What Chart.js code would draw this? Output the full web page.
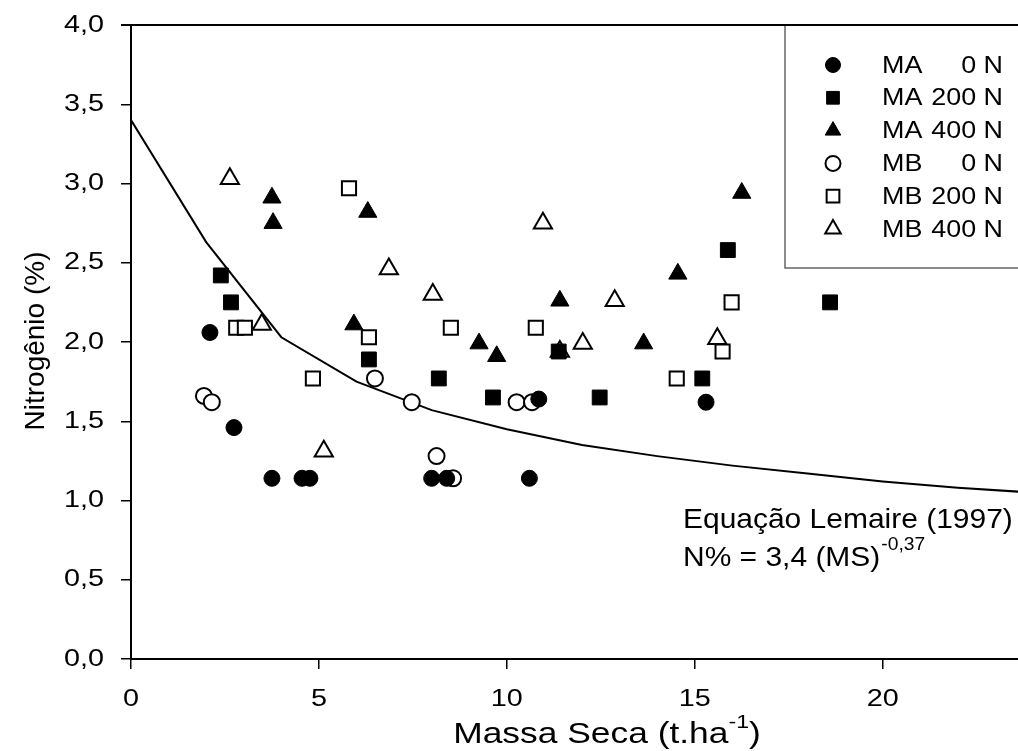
<!DOCTYPE html>
<html>
<head>
<meta charset="utf-8">
<script src="https://cdn.jsdelivr.net/npm/chart.js@4.4.1/dist/chart.umd.min.js"></script>
<style>
  body { margin: 0; background: #fff; }
  canvas { display: block; }
</style>
</head>
<body>
<canvas id="nitrogen-graph" width="1018" height="751"></canvas>
<script>
const nitrogenGraph = document.querySelector("#nitrogen-graph");

// series: dry mass (t/ha) and nitrogen (%)
const maZeroX = [2.1, 2.74, 3.75, 4.55, 4.76, 8.0, 8.4, 10.6, 10.85, 15.3];
const maZeroY = [2.06, 1.46, 1.14, 1.14, 1.14, 1.14, 1.14, 1.14, 1.64, 1.62];

const ma200X = [2.39, 2.66, 6.33, 8.19, 9.63, 11.38, 12.47, 15.2, 15.88, 18.6];
const ma200Y = [2.42, 2.25, 1.89, 1.77, 1.65, 1.94, 1.65, 1.77, 2.58, 2.25];

const ma400X = [3.75, 3.78, 5.93, 6.3, 9.26, 9.73, 11.41, 13.64, 14.55, 16.25];
const ma400Y = [2.91, 2.75, 2.11, 2.82, 1.99, 1.91, 2.26, 1.99, 2.43, 2.94];

const mbZeroX = [1.94, 2.15, 6.49, 7.47, 8.13, 8.57, 10.26, 10.67];
const mbZeroY = [1.66, 1.62, 1.77, 1.62, 1.28, 1.14, 1.62, 1.62];

const mb200X = [2.8, 3.03, 4.84, 5.8, 6.33, 8.51, 10.77, 14.52, 15.74, 15.98];
const mb200Y = [2.09, 2.09, 1.77, 2.97, 2.03, 2.09, 2.09, 1.77, 1.94, 2.25];

const mb400X = [2.63, 3.48, 5.13, 6.86, 8.03, 10.96, 11.41, 12.02, 12.87, 15.6];
const mb400Y = [3.03, 2.11, 1.31, 2.46, 2.30, 2.75, 1.94, 1.99, 2.26, 2.02];

// Lemaire (1997) reference curve as drawn (sampled every 2 t/ha)
const curveX = [0, 2, 4, 6, 8, 10, 12, 14, 16, 18, 20, 22, 24];
const curveY = [3.4, 2.63, 2.03, 1.75, 1.57, 1.45, 1.35, 1.28, 1.22, 1.17, 1.12, 1.08, 1.05];

const labels = ["MA 0 N", "MA 200 N", "MA 400 N", "MB 0 N", "MB 200 N", "MB 400 N"];

const xTicks = [0, 5, 10, 15, 20];
const yTicks = [0, 0.5, 1, 1.5, 2, 2.5, 3, 3.5, 4];

const toPoints = (xs, ys) => xs.map((x, i) => ({ x: x, y: ys[i] }));

const makeSet = (label, xs, ys, style, filled, radius) => ({
  label: label,
  data: toPoints(xs, ys),
  pointStyle: style,
  pointRadius: radius,
  pointHoverRadius: radius,
  pointBackgroundColor: filled ? "#000" : "#fff",
  pointBorderColor: "#000",
  pointBorderWidth: filled ? 1 : 2,
  showLine: false,
});

const font = "Arial, 'Liberation Sans', sans-serif";

const sets = [
  makeSet(labels[0], maZeroX, maZeroY, "circle", true, 8),
  makeSet(labels[1], ma200X, ma200Y, "rect", true, 10.5),
  makeSet(labels[2], ma400X, ma400Y, "triangle", true, 10.5),
  makeSet(labels[3], mbZeroX, mbZeroY, "circle", false, 8),
  makeSet(labels[4], mb200X, mb200Y, "rect", false, 10),
  makeSet(labels[5], mb400X, mb400Y, "triangle", false, 10.5),
];

const fmtX = (v) => String(v);
const fmtY = (v) => v.toFixed(1).replace(".", ",");

// the original text is a bit wide, so it is drawn with a horizontal stretch
const putText = (ctx, text, x, y, size, sx, align, baseline) => {
  ctx.save();
  ctx.font = size + "px " + font;
  ctx.textAlign = align;
  ctx.textBaseline = baseline || "alphabetic";
  ctx.translate(x, y);
  ctx.scale(sx, 1);
  ctx.fillText(text, 0, 0);
  ctx.restore();
};

const textWidth = (ctx, text, size, sx) => {
  ctx.save();
  ctx.font = size + "px " + font;
  const w = ctx.measureText(text).width * sx;
  ctx.restore();
  return w;
};

// tick labels, legend box, annotation, axis titles and top frame line
const extras = {
  id: "extras",
  afterDraw(chart) {
    const ctx = chart.ctx;
    const area = chart.chartArea;
    const xScale = chart.scales.x;
    const yScale = chart.scales.y;
    ctx.save();
    ctx.fillStyle = "#000";

    // top frame
    ctx.strokeStyle = "#000";
    ctx.lineWidth = 2;
    ctx.beginPath();
    ctx.moveTo(area.left - 10, area.top);
    ctx.lineTo(chart.width, area.top);
    ctx.stroke();

    // tick labels
    yScale.ticks.forEach((t) => {
      putText(ctx, fmtY(t.value), area.left - 27, yScale.getPixelForValue(t.value), 24, 1.2, "right", "middle");
    });
    xScale.ticks.forEach((t) => {
      putText(ctx, fmtX(t.value), xScale.getPixelForValue(t.value), 706, 24, 1.2, "center");
    });

    // legend
    ctx.fillStyle = "#fff";
    ctx.fillRect(785, area.top + 1, 240, 242);
    ctx.strokeStyle = "#666";
    ctx.lineWidth = 1.5;
    ctx.beginPath();
    ctx.moveTo(785, area.top + 1);
    ctx.lineTo(785, 268);
    ctx.lineTo(1020, 268);
    ctx.stroke();

    sets.forEach((s, i) => {
      const y = 65 + i * 32.8;
      ctx.fillStyle = s.pointBackgroundColor;
      ctx.strokeStyle = "#000";
      ctx.lineWidth = s.pointBorderWidth;
      Chart.helpers.drawPoint(ctx, {
        pointStyle: s.pointStyle,
        radius: s.pointStyle === "circle" ? 7.5 : 9,
        rotation: 0,
        borderWidth: s.pointBorderWidth,
      }, 833, y);
      const parts = s.label.split(" ");
      ctx.fillStyle = "#000";
      putText(ctx, parts[0], 882, y + 1, 24, 1.12, "left", "middle");
      putText(ctx, parts.slice(1).join(" "), 1003, y + 1, 24, 1.12, "right", "middle");
    });

    // annotation
    ctx.fillStyle = "#000";
    putText(ctx, "Equação Lemaire (1997)", 683, 528, 28, 1.07, "left");
    const eq = "N% = 3,4 (MS)";
    putText(ctx, eq, 683, 566, 28, 1.07, "left");
    const eqW = textWidth(ctx, eq, 28, 1.07);
    putText(ctx, "-0,37", 683 + eqW + 1, 550, 18, 1.07, "left");

    // x title
    const xt = "Massa Seca (t.ha";
    const xtW = textWidth(ctx, xt, 29, 1.22);
    const supW = textWidth(ctx, "-1", 19, 1.22);
    const closeW = textWidth(ctx, ")", 29, 1.22);
    const xs = 607 - (xtW + supW + closeW) / 2;
    putText(ctx, xt, xs, 743, 29, 1.22, "left");
    putText(ctx, "-1", xs + xtW, 728, 19, 1.22, "left");
    putText(ctx, ")", xs + xtW + supW, 743, 29, 1.22, "left");

    // y title
    ctx.translate(36, 341);
    ctx.rotate(-Math.PI / 2);
    ctx.font = "28px " + font;
    ctx.textAlign = "center";
    ctx.textBaseline = "middle";
    ctx.fillText("Nitrogênio (%)", 0, 0);
    ctx.restore();
  },
};

const chartData = {
  datasets: [
    ...sets,
    {
      type: "line",
      label: "Lemaire",
      data: toPoints(curveX, curveY),
      borderColor: "#000",
      borderWidth: 2,
      pointRadius: 0,
      tension: 0,
      fill: false,
    },
  ],
};

const chartOptions = {
  responsive: false,
  animation: false,
  devicePixelRatio: 1,
  layout: { autoPadding: false, padding: { top: 25, left: 0, right: 0, bottom: 0 } },
  plugins: {
    legend: { display: false },
    tooltip: { enabled: false },
  },
  scales: {
    x: {
      type: "linear",
      min: 0,
      max: 23.6,
      afterBuildTicks: (scale) => {
        scale.ticks = xTicks.map(v => ({ value: v }));
      },
      afterFit: (scale) => { scale.height = 92; },
      ticks: { display: false },
      grid: { drawOnChartArea: false, drawTicks: true, tickLength: 10, color: "#000", lineWidth: 1.5 },
      border: { color: "#000", width: 2 },
    },
    y: {
      type: "linear",
      min: 0,
      max: 4,
      afterBuildTicks: (scale) => {
        scale.ticks = yTicks.map(v => ({ value: v }));
      },
      afterFit: (scale) => { scale.width = 131; },
      ticks: { display: false },
      grid: { drawOnChartArea: false, drawTicks: true, tickLength: 10, color: "#000", lineWidth: 1.5 },
      border: { color: "#000", width: 2 },
    },
  },
};

document.addEventListener("DOMContentLoaded", function () {
  new Chart(nitrogenGraph, {
    type: "scatter",
    data: chartData,
    options: chartOptions,
    plugins: [extras],
  });
});
</script>
</body>
</html>
